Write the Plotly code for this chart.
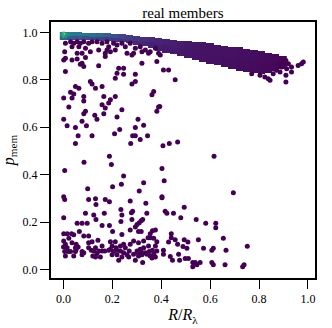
'''
    Scatter of p_mem against R/R_lambda for real members,
    with the dense high-membership band drawn as a density heatmap.
'''

import numpy as np
import plotly.graph_objects as go

# Dense band (x bin centres, lower / upper p_mem edge, density level top / bottom half)
band_x = [0.00, 0.03, 0.06, 0.09, 0.12, 0.15, 0.18, 0.21, 0.24, 0.27, 0.30,
          0.33, 0.36, 0.39, 0.42, 0.45, 0.48, 0.51, 0.54, 0.57, 0.60, 0.63,
          0.66, 0.69, 0.72, 0.75, 0.78, 0.81, 0.84, 0.87, 0.90]
band_lo = [0.972, 0.972, 0.971, 0.970, 0.969, 0.968, 0.966, 0.962, 0.958, 0.953, 0.948,
           0.941, 0.933, 0.924, 0.916, 0.909, 0.903, 0.896, 0.886, 0.877, 0.869, 0.861,
           0.853, 0.846, 0.839, 0.833, 0.830, 0.828, 0.832, 0.838, 0.846]
band_hi = [1.000, 1.000, 1.000, 0.999, 0.999, 0.998, 0.997, 0.995, 0.993, 0.990, 0.987,
           0.984, 0.981, 0.977, 0.974, 0.971, 0.968, 0.965, 0.962, 0.958, 0.953, 0.948,
           0.944, 0.940, 0.936, 0.931, 0.926, 0.921, 0.915, 0.908, 0.900]
band_top_level = [0.44, 0.42, 0.40, 0.38, 0.36, 0.33, 0.29, 0.25, 0.21, 0.18, 0.15,
                  0.13, 0.11, 0.10, 0.09, 0.08, 0.07, 0.065, 0.06, 0.055, 0.05, 0.05,
                  0.045, 0.045, 0.04, 0.04, 0.035, 0.03, 0.025, 0.02, 0.015]
band_bot_level = [0.30, 0.27, 0.25, 0.24, 0.22, 0.20, 0.18, 0.16, 0.14, 0.13, 0.11,
                  0.10, 0.09, 0.08, 0.075, 0.07, 0.065, 0.06, 0.055, 0.05, 0.045, 0.045,
                  0.04, 0.04, 0.035, 0.035, 0.03, 0.025, 0.02, 0.015, 0.01]

# Brightest cells in the corner at R = 0, p_mem = 1
hot_x = [0.000, 0.000, 0.000, 0.007, -0.006, 0.013, 0.020, 0.007]
hot_y = [0.990, 0.983, 0.997, 0.990, 0.990, 0.988, 0.990, 0.982]
hot_level = [1.00, 0.62, 0.68, 0.80, 0.55, 0.52, 0.48, 0.50]

# Individual members outside the band
r_vals = [
    0.008, 0.029, 0.042, 0.056, 0.069, 0.083, 0.103, 0.117, 0.137, 0.158, 0.178, 0.185,
    0.205, 0.219, 0.239, 0.253, 0.273, 0.294, 0.314, 0.335, 0.355, 0.376, 0.389,
    0.035, 0.063, 0.090, 0.110, 0.144, 0.171, 0.178, 0.192, 0.212, 0.260, 0.287, 0.321, 0.348,
    0.005, 0.056, 0.076, 0.090, 0.171, 0.280,
    0.001, 0.008, 0.035, 0.056, 0.069, 0.083, 0.076, 0.144, 0.321, 0.382,
    0.008, 0.226, 0.246, 0.219, 0.212, 0.246, 0.294, 0.294, 0.280,
    0.110, 0.117, 0.063, 0.049, 0.131, 0.158, 0.369, 0.362,
    0.029, 0.042, 0.035, 0.001, 0.083, 0.083, 0.165, 0.192, 0.212, 0.185, 0.158, 0.171,
    0.022, 0.090, 0.239, 0.389, 0.382,
    0.396, 0.409, 0.430, 0.457, 0.394,
    0.770, 0.804, 0.824, 0.838, 0.845, 0.858, 0.872, 0.886, 0.893, 0.899, 0.910, 0.913,
    0.920, 0.933, 0.933, 0.910, 0.910, 0.960, 0.974, 0.981, 0.886,
    0.001, 0.015, 0.049, 0.076, 0.094, 0.083, 0.128, 0.137, 0.165, 0.219, 0.305, 0.294,
    0.328, 0.230, 0.209, 0.060, 0.117, 0.283, 0.294, 0.344, 0.314, 0.275, 0.049, 0.188,
    0.196, 0.084, 0.005, 0.246, 0.237, 0.201, 0.328, 0.310, 0.099, 0.001,
    0.407, 0.433, 0.467, 0.616, 0.403, 0.412, 0.695, 0.403,
    0.005, 0.103, 0.131, 0.171, 0.188, 0.273, 0.337, 0.133,
    0.090, 0.124, 0.167, 0.235, 0.239, 0.278, 0.283, 0.341, 0.001, 0.133, 0.235, 0.280,
    0.324, 0.318,
    0.056, 0.076, 0.097, 0.158, 0.188, 0.301, 0.310, 0.294, 0.273, 0.201, 0.239,
    0.001, 0.015, 0.033, 0.065, 0.083, 0.042, 0.022, 0.103, 0.307, 0.318, 0.355, 0.364,
    0.376, 0.346, 0.355, 0.369,
    0.001, 0.008, 0.000, 0.015, 0.035, 0.052, 0.049, 0.060, 0.052, 0.103, 0.117, 0.141,
    0.158, 0.103, 0.114, 0.124, 0.131, 0.144, 0.192, 0.212, 0.199, 0.215, 0.233, 0.246,
    0.253, 0.273, 0.287, 0.307, 0.328, 0.382, 0.376, 0.348, 0.328, 0.314, 0.301, 0.318,
    0.335, 0.351, 0.364, 0.382, 0.369, 0.355, 0.341, 0.321, 0.307, 0.287, 0.269, 0.260,
    0.246, 0.233, 0.219, 0.205, 0.192, 0.185, 0.169, 0.158, 0.137, 0.120, 0.083, 0.076,
    0.049, 0.029, 0.019, 0.005, 0.008, 0.042, 0.076, 0.131, 0.151, 0.199, 0.219, 0.226,
    0.267, 0.294, 0.324, 0.362, 0.376, 0.307, 0.239,
    0.403, 0.494, 0.416, 0.423, 0.450, 0.480, 0.543, 0.582, 0.623, 0.623, 0.441, 0.441,
    0.457, 0.430, 0.467, 0.494, 0.509, 0.489, 0.505, 0.552, 0.654, 0.573, 0.607, 0.613,
    0.665, 0.752, 0.409, 0.409, 0.437, 0.446, 0.471, 0.475, 0.498, 0.511, 0.529, 0.539,
    0.546, 0.529, 0.559, 0.607, 0.613, 0.661, 0.733, 0.739,
]
p_vals = [
    0.954, 0.961, 0.954, 0.961, 0.954, 0.961, 0.954, 0.961, 0.961, 0.954, 0.961, 0.940,
    0.954, 0.947, 0.954, 0.940, 0.954, 0.933, 0.940, 0.926, 0.919, 0.933, 0.912,
    0.940, 0.940, 0.933, 0.919, 0.926, 0.912, 0.926, 0.919, 0.926, 0.912, 0.912, 0.919, 0.912,
    0.919, 0.912, 0.912, 0.894, 0.898, 0.905,
    0.884, 0.891, 0.884, 0.888, 0.866, 0.856, 0.870, 0.859, 0.870, 0.877,
    0.835, 0.849, 0.849, 0.828, 0.807, 0.824, 0.824, 0.793, 0.782,
    0.793, 0.782, 0.765, 0.772, 0.765, 0.772, 0.751, 0.737,
    0.748, 0.740, 0.723, 0.723, 0.730, 0.711, 0.730, 0.716, 0.730, 0.702, 0.695, 0.681,
    0.685, 0.667, 0.674, 0.685, 0.667,
    0.905, 0.842, 0.842, 0.800, 0.687,
    0.826, 0.819, 0.812, 0.805, 0.798, 0.826, 0.840, 0.833, 0.854, 0.875, 0.882, 0.847,
    0.868, 0.854, 0.833, 0.819, 0.791, 0.861, 0.868, 0.875, 0.868,
    0.634, 0.606, 0.599, 0.625, 0.606, 0.657, 0.651, 0.634, 0.657, 0.643, 0.634, 0.599,
    0.608, 0.590, 0.573, 0.564, 0.564, 0.564, 0.564, 0.564, 0.548, 0.531, 0.531, 0.478,
    0.443, 0.452, 0.417, 0.394, 0.359, 0.349, 0.366, 0.331, 0.340, 0.307,
    0.522, 0.531, 0.538, 0.478, 0.426, 0.374, 0.324, 0.307,
    0.295, 0.295, 0.298, 0.295, 0.286, 0.289, 0.279, 0.274,
    0.237, 0.230, 0.237, 0.253, 0.230, 0.239, 0.246, 0.237, 0.218, 0.211, 0.202, 0.211,
    0.211, 0.205,
    0.195, 0.195, 0.195, 0.186, 0.186, 0.190, 0.197, 0.179, 0.167, 0.160, 0.148,
    0.151, 0.151, 0.151, 0.160, 0.141, 0.146, 0.132, 0.141, 0.160, 0.160, 0.151, 0.163,
    0.167, 0.134, 0.134, 0.132,
    0.120, 0.106, 0.095, 0.092, 0.113, 0.106, 0.092, 0.095, 0.085, 0.113, 0.117, 0.123,
    0.099, 0.092, 0.081, 0.078, 0.092, 0.078, 0.117, 0.117, 0.099, 0.092, 0.099, 0.106,
    0.092, 0.106, 0.120, 0.113, 0.120, 0.117, 0.099, 0.099, 0.092, 0.085, 0.078, 0.076,
    0.071, 0.076, 0.081, 0.078, 0.064, 0.057, 0.064, 0.062, 0.067, 0.064, 0.078, 0.062,
    0.071, 0.078, 0.081, 0.076, 0.085, 0.081, 0.078, 0.078, 0.067, 0.057, 0.071, 0.076,
    0.076, 0.076, 0.076, 0.076, 0.057, 0.057, 0.062, 0.053, 0.053, 0.062, 0.062, 0.039,
    0.053, 0.039, 0.029, 0.048, 0.053, 0.057, 0.053,
    0.303, 0.263, 0.246, 0.237, 0.237, 0.218, 0.211, 0.195, 0.195, 0.176, 0.151, 0.134,
    0.125, 0.116, 0.106, 0.125, 0.116, 0.097, 0.090, 0.125, 0.132, 0.090, 0.081, 0.090,
    0.081, 0.098, 0.081, 0.064, 0.055, 0.039, 0.064, 0.039, 0.046, 0.046, 0.029, 0.029,
    0.020, 0.011, 0.029, 0.029, 0.020, 0.020, 0.011, 0.020,
]

x_ticks = [0.0, 0.2, 0.4, 0.6, 0.8, 1.0]
y_ticks = [0.0, 0.2, 0.4, 0.6, 0.8, 1.0]
tick_text = ['0.0', '0.2', '0.4', '0.6', '0.8', '1.0']

FONT = 'Liberation Serif'


def build_band():
    '''
        Builds the heatmap grid of the dense band from its edges and levels.
    '''
    y_grid = np.arange(0.820, 1.0045, 0.004)
    z = []
    for y in y_grid:
        row = []
        for lo, hi, top, bot in zip(band_lo, band_hi, band_top_level, band_bot_level):
            if lo <= y <= hi:
                row.append(top if y >= (lo + hi) / 2 else bot)
            else:
                row.append(None)
        z.append(row)
    return y_grid, z


y_grid, band_z = build_band()

fig = go.Figure()

fig.add_trace(go.Scatter(
    x=r_vals,
    y=p_vals,
    mode='markers',
    marker=dict(size=5, color='#440154', line=dict(width=0)),
    showlegend=False,
))

fig.add_trace(go.Heatmap(
    x=band_x,
    y=y_grid,
    z=band_z,
    colorscale='Viridis',
    zmin=0,
    zmax=1,
    showscale=False,
    hoverinfo='skip',
))

fig.add_trace(go.Scatter(
    x=hot_x,
    y=hot_y,
    mode='markers',
    marker=dict(size=3, symbol='square', color=hot_level,
                colorscale='Viridis', cmin=0, cmax=1, line=dict(width=0)),
    showlegend=False,
))

axis_style = dict(
    showline=True,
    linecolor='black',
    linewidth=2,
    mirror=True,
    ticks='outside',
    ticklen=9,
    tickwidth=1,
    tickcolor='black',
    showgrid=False,
    zeroline=False,
    automargin=False,
    tickfont=dict(family=FONT, size=12, color='black'),
)

fig.update_layout(
    width=332,
    height=328,
    margin=dict(l=51, r=17, t=22, b=50),
    paper_bgcolor='white',
    plot_bgcolor='white',
    title=dict(
        text='real members',
        x=0.551,
        xanchor='center',
        y=0.962,
        yanchor='middle',
        font=dict(family=FONT, size=15, color='black'),
    ),
    xaxis=dict(
        axis_style,
        range=[-0.051, 1.029],
        tickvals=x_ticks,
        ticktext=tick_text,
        title=dict(text='<i>R</i>/<i>R</i><sub>λ</sub>',
                   font=dict(family=FONT, size=16, color='black'),
                   standoff=3),
    ),
    yaxis=dict(
        axis_style,
        range=[-0.036, 1.044],
        tickvals=y_ticks,
        ticktext=tick_text,
        title=dict(text='<i>p</i><sub>mem</sub>',
                   font=dict(family=FONT, size=16, color='black'),
                   standoff=4),
    ),
)

# drop the page's default body margin so the figure fills the window
fig.write_html('out.html',
               config={'displayModeBar': False},
               post_script="document.body.style.margin = '0';")
